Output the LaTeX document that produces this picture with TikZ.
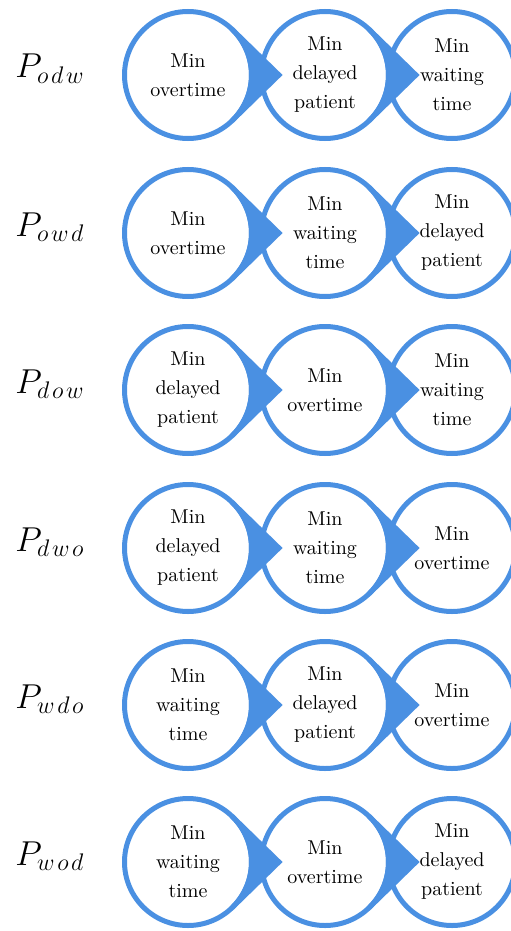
\documentclass[tikz,border=0pt]{standalone}
\usepackage{tikz}
\usetikzlibrary{calc}
\usepackage{amsmath}
\definecolor{goalblue}{RGB}{74,144,226}

\begin{document}
\begin{tikzpicture}[x=0.5pt, y=-0.5pt,
    goal/.style={circle, draw=goalblue, fill=white, line width=2.5pt,
        minimum size=63.5pt, inner sep=0pt, align=center,
        font=\fontsize{10}{14.5}\selectfont},
    pointer/.style={draw=goalblue, fill=goalblue, line width=2.5pt, line join=miter},
    plabel/.style={anchor=base west, inner sep=0pt, font=\fontsize{17}{20}\selectfont}]
    \useasboundingbox (0,0) rectangle (510,931);

    % One row per priority order: label, three goals, two pointers
    \foreach \r/\y/\s/\ta/\tb/\tc in {
        1/75/o\mkern2mu d\mkern2mu w/{Min\\overtime}/{Min\\delayed\\patient}/{Min\\waiting\\time},
        2/233/o\mkern2mu w\mkern2mu d/{Min\\overtime}/{Min\\waiting\\time}/{Min\\delayed\\patient},
        3/390/d\mkern2mu o\mkern2mu w/{Min\\delayed\\patient}/{Min\\overtime}/{Min\\waiting\\time},
        4/548/d\mkern2mu w\mkern2mu o/{Min\\delayed\\patient}/{Min\\waiting\\time}/{Min\\overtime},
        5/705/w\mkern2mu d\mkern2mu o/{Min\\waiting\\time}/{Min\\delayed\\patient}/{Min\\overtime},
        6/862/w\mkern2mu o\mkern2mu d/{Min\\waiting\\time}/{Min\\overtime}/{Min\\delayed\\patient}} {
        \node[plabel] (p\r) at (15, \y+3) {$P_{\s}$};
        \node[goal] (a\r) at (188, \y) {\ta};
        \node[goal] (b\r) at (325, \y) {\tb};
        \node[goal] (c\r) at (452, \y) {\tc};

        % pointers sit on top of the next circle
        \draw[pointer] ($(a\r)+(46:63.5)$) -- ($(a\r)+(91,0)$) -- ($(a\r)+(-46:63.5)$)
            arc[start angle=-46, end angle=46, radius=63.5] -- cycle;
        \draw[pointer] ($(b\r)+(46:63.5)$) -- ($(b\r)+(91,0)$) -- ($(b\r)+(-46:63.5)$)
            arc[start angle=-46, end angle=46, radius=63.5] -- cycle;
    }
\end{tikzpicture}
\end{document}
